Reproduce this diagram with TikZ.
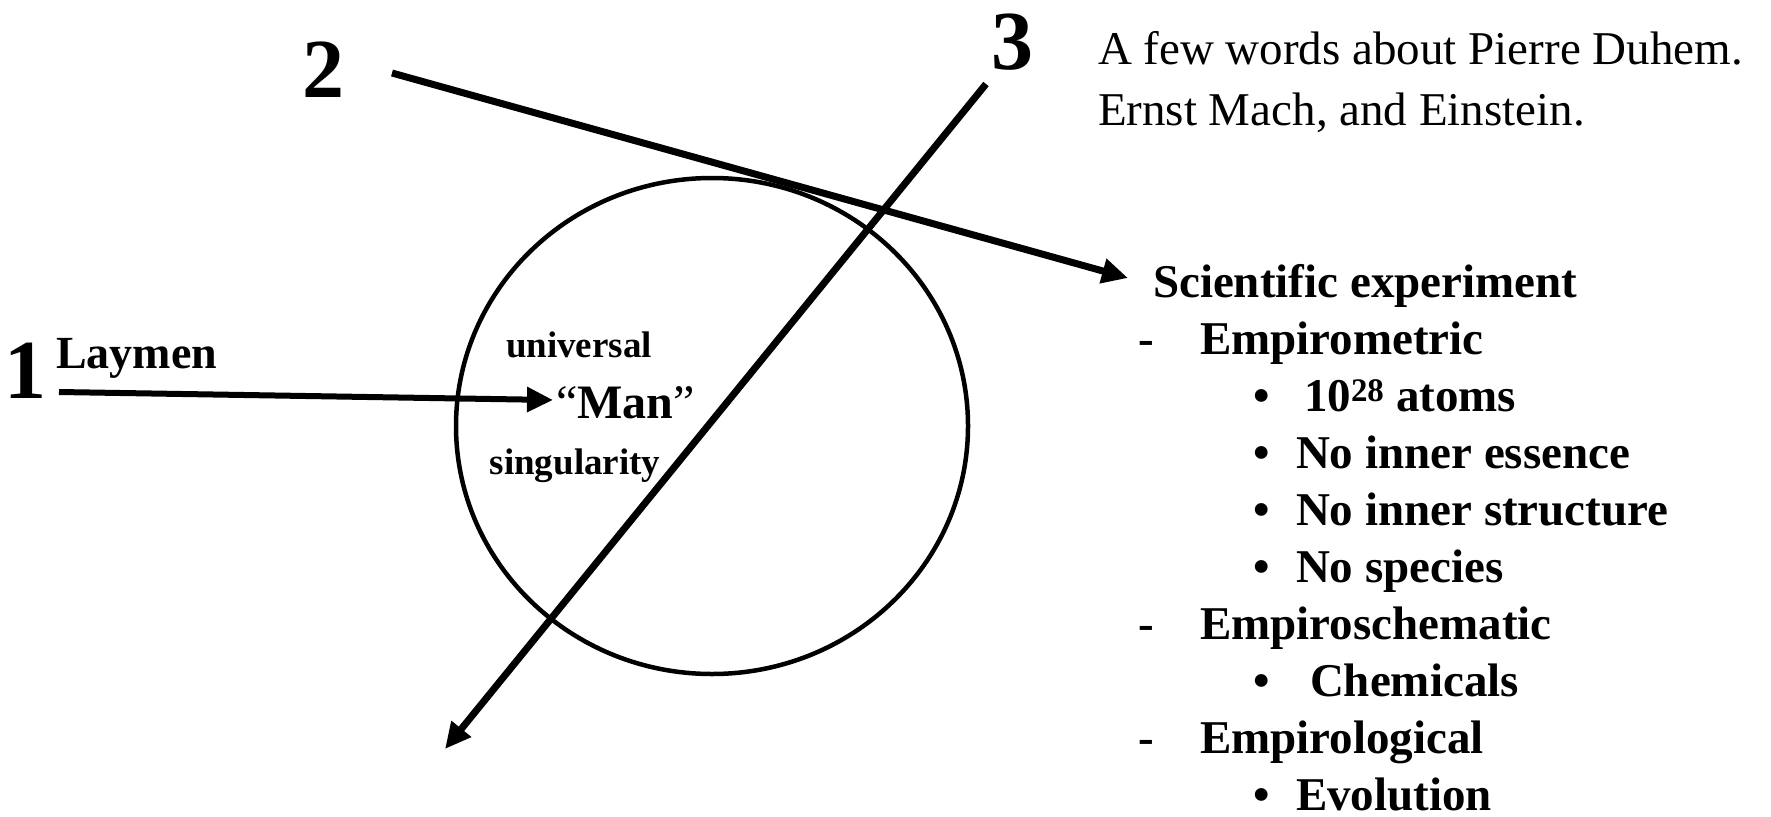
\documentclass[tikz,border=0pt]{standalone}
\usepackage{fontspec}
\setmainfont{Liberation Serif}
\usetikzlibrary{arrows.meta,shapes.geometric}
\tikzset{
  txt/.style={anchor=base west,inner sep=0pt,outer sep=0pt},
  big/.style={txt,font=\fontsize{84}{84}\selectfont\bfseries},
  lst/.style={txt,font=\fontsize{47}{47}\selectfont\bfseries},
  mid/.style={anchor=base,inner sep=0pt,font=\fontsize{37}{37}\selectfont\bfseries},
  conn/.style={line width=7pt,-{Triangle[length=26pt,width=24pt]}},
}
\begin{document}
\begin{tikzpicture}[x=1pt,y=-1pt]
\useasboundingbox (0,0) rectangle (1771,816);
% circle
\node[draw,line width=4.5pt,ellipse,minimum width=512pt,minimum height=496pt,inner sep=0pt] (circ) at (712,426) {};
% labels in circle
\node[mid] (univ) at (579,357) {universal};
\node[txt,font=\fontsize{48}{48}\selectfont] (man) at (556,418) {``\textbf{Man}''};
\node[mid] (sing) at (575,474) {singularity};
% numbers
\node[big] (n1) at (5,398) {1};
\node[big] (n2) at (302,97) {2};
\node[big] (n3) at (991,70) {3};
\node[txt,font=\fontsize{46}{46}\selectfont\bfseries] (lay) at (56,368) {Laymen};
% top text
\node[txt,font=\fontsize{47}{47}\selectfont] (t1) at (1098,64) {A few words about Pierre Duhem.};
\node[txt,font=\fontsize{47}{47}\selectfont] (t2) at (1098,125) {Ernst Mach, and Einstein.};
% list
\node[lst] (sci) at (1153,297) {Scientific experiment};
\node[lst] (d1) at (1138,354) {-};
\node[lst] (e1) at (1200,354) {Empirometric};
\node[lst] (b1) at (1253,411) {•};
\node[lst] (a1) at (1304,411) {10\textsuperscript{28} atoms};
\node[lst] (b2) at (1253,468) {•};
\node[lst] (a2) at (1296,468) {No inner essence};
\node[lst] (b3) at (1253,525) {•};
\node[lst] (a3) at (1296,525) {No inner structure};
\node[lst] (b4) at (1253,582) {•};
\node[lst] (a4) at (1296,582) {No species};
\node[lst] (d2) at (1138,639) {-};
\node[lst] (e2) at (1200,639) {Empiroschematic};
\node[lst] (b5) at (1253,696) {•};
\node[lst] (a5) at (1310,696) {Chemicals};
\node[lst] (d3) at (1138,753) {-};
\node[lst] (e3) at (1200,753) {Empirological};
\node[lst] (b6) at (1253,810) {•};
\node[lst] (a6) at (1296,810) {Evolution};
% connectors
\coordinate (s1) at (59,392);
\coordinate (e1t) at (553,400);
\coordinate (s2) at (392,73);
\coordinate (e2t) at (1128,278);
\coordinate (s3) at (986,84);
\coordinate (e3t) at (445,749);
\draw[conn,line width=6pt] (s1) -- (e1t);
\draw[conn] (s2) -- (e2t);
\draw[conn] (s3) -- (e3t);
\end{tikzpicture}
\end{document}
